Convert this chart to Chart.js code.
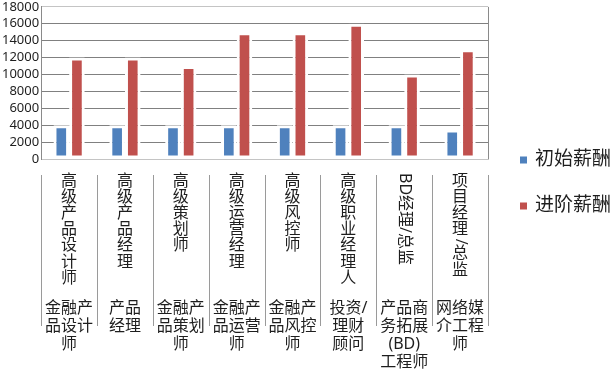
<!DOCTYPE html>
<html>
<head>
<meta charset="utf-8">
<script src="https://cdn.jsdelivr.net/npm/chart.js@4.4.1/dist/chart.umd.min.js"></script>
<style>
  html, body { margin: 0; padding: 0; background: #fff; }
  canvas { display: block; }
</style>
</head>
<body>
<canvas id="salary-chart" width="616" height="372"></canvas>
<script>
// job titles (upper label row) and job families (lower label row)
var roles = ['高级产品设计师', '高级产品经理', '高级策划师', '高级运营经理', '高级风控师', '高级职业经理人', 'BD经理/总监', '项目经理/总监'];
var groups = ['金融产\n品设计\n师', '产品\n经理', '金融产\n品策划\n师', '金融产\n品运营\n师', '金融产\n品风控\n师', '投资/\n理财\n顾问', '产品商\n务拓展\n(BD)\n工程师', '网络媒\n介工程\n师'];
var seriesNames = ['初始薪酬', '进阶薪酬'];
var startPay = [4000, 4000, 4000, 4000, 4000, 4000, 4000, 3500];
var advancedPay = [12000, 12000, 11000, 15000, 15000, 16000, 10000, 13000];
var yMax = 18000;
var yStep = 2000;

var FONT = '"Noto Sans", "Noto Sans CJK SC", sans-serif';
var TEXT = '#1e1e1e';

var categoryLabels = {
  id: 'categoryLabels',
  afterDraw: function (chart) {
    var ctx = chart.ctx, x = chart.scales.x, area = chart.chartArea;
    var half = (x.getPixelForValue(1) - x.getPixelForValue(0)) / 2;
    ctx.save();

    // right frame of the plot
    ctx.strokeStyle = '#8a8a8a';
    ctx.lineWidth = 1;
    var rx = Math.round(area.right) + 0.5;
    ctx.beginPath(); ctx.moveTo(rx, area.top); ctx.lineTo(rx, area.bottom); ctx.stroke();

    // separators between categories
    ctx.strokeStyle = '#9a9a9a';
    for (var i = 0; i <= roles.length; i++) {
      var sx = Math.round(x.getPixelForValue(i) - half) + 0.5;
      ctx.beginPath(); ctx.moveTo(sx, 175); ctx.lineTo(sx, 326); ctx.stroke();
    }

    ctx.fillStyle = TEXT;
    ctx.font = '16px ' + FONT;
    roles.forEach(function (role, i) {
      var cx = x.getPixelForValue(i);
      if (/^[A-Za-z]/.test(role)) {
        ctx.save();
        ctx.translate(cx, 173);
        ctx.rotate(Math.PI / 2);
        ctx.textAlign = 'left';
        ctx.textBaseline = 'middle';
        ctx.fillText(role, 0, 0);
        ctx.restore();
        return;
      }
      var y = 173;
      for (var ch of role) {
        if (ch.charCodeAt(0) < 128) {
          var w = ctx.measureText(ch).width;
          ctx.save();
          ctx.translate(cx, y + w / 2 + 1);
          ctx.rotate(Math.PI / 2);
          ctx.textAlign = 'center';
          ctx.textBaseline = 'middle';
          ctx.fillText(ch, 0, 0);
          ctx.restore();
          y += w + 2;
        } else {
          ctx.textAlign = 'center';
          ctx.textBaseline = 'middle';
          ctx.fillText(ch, cx, y + 8);
          y += 16.2;
        }
      }
    });

    groups.forEach(function (g, i) {
      var cx = x.getPixelForValue(i);
      ctx.textAlign = 'center';
      ctx.textBaseline = 'middle';
      g.split('\n').forEach(function (line, k) {
        ctx.fillText(line, cx, 308 + k * 18.3);
      });
    });

    // legend
    ctx.font = '19px ' + FONT;
    ctx.textAlign = 'left';
    chart.data.datasets.forEach(function (ds, k) {
      var cy = 160 + k * 46;
      ctx.fillStyle = ds.backgroundColor;
      ctx.fillRect(520, cy - 3.5, 7, 7);
      ctx.fillStyle = TEXT;
      ctx.fillText(ds.label, 535, cy);
    });
    ctx.restore();
  }
};

var ctx = document.getElementById('salary-chart').getContext('2d');
new Chart(ctx, {
  type: 'bar',
  data: {
    labels: roles,
    datasets: [{
      label: seriesNames[0],
      data: startPay,
      backgroundColor: '#4f81bd',
      borderColor: '#ffffff',
      borderWidth: 3,
      borderSkipped: false
    }, {
      label: seriesNames[1],
      data: advancedPay,
      backgroundColor: '#c0504d',
      borderColor: '#ffffff',
      borderWidth: 3,
      borderSkipped: false
    }]
  },
  options: {
    responsive: false,
    animation: false,
    categoryPercentage: 0.56,
    barPercentage: 1,
    layout: { padding: { left: 0, right: 128, top: 0, bottom: 0 } },
    scales: {
      x: {
        grid: { display: false },
        border: { display: true, color: '#c4c4c4' },
        ticks: { display: false },
        afterFit: function (s) { s.height = 213; }
      },
      y: {
        min: 0,
        max: yMax,
        ticks: {
          stepSize: yStep,
          padding: 2,
          color: TEXT,
          font: { family: FONT, size: 13, lineHeight: 0.75 },
          callback: function (v) { return String(v); }
        },
        grid: {
          drawTicks: false,
          color: function (c) {
            return (c.tick && (c.tick.value === yMax || c.tick.value === 0)) ? '#c4c4c4' : '#808080';
          }
        },
        border: { display: true, color: '#8a8a8a' }
      }
    },
    plugins: {
      legend: { display: false },
      tooltip: { enabled: false }
    }
  },
  plugins: [categoryLabels]
});
</script>
</body>
</html>
